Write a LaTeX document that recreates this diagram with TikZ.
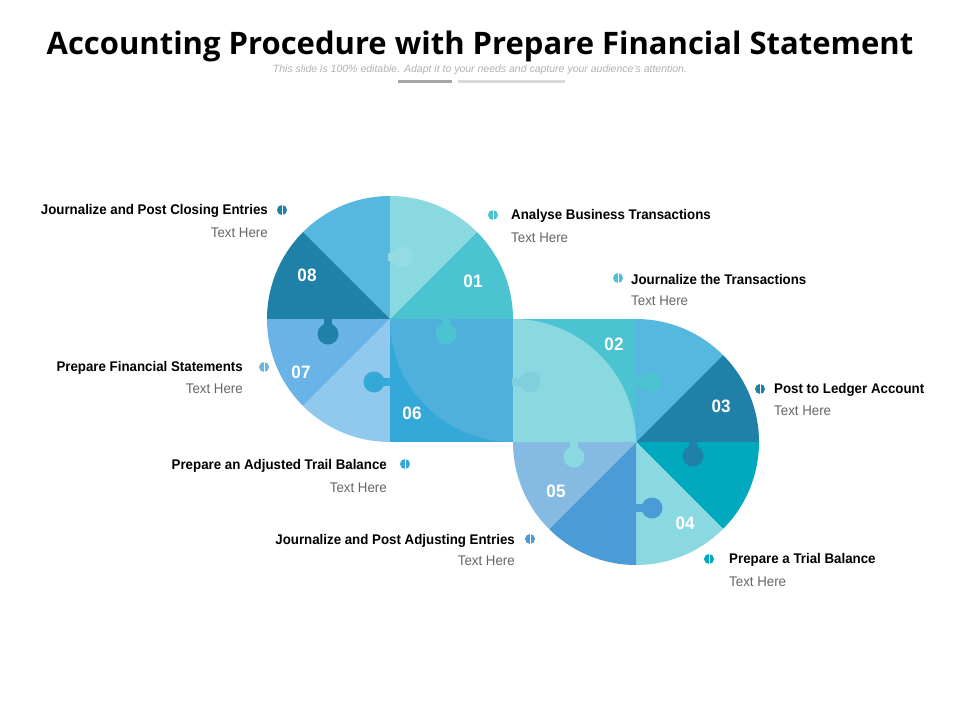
\documentclass[tikz,border=0pt]{standalone}
\usepackage{fontspec}
\setmainfont{Liberation Sans}
\newfontfamily\narrow[FakeStretch=0.95]{Liberation Sans}
\newfontfamily\titlefont{Open Sans}
\definecolor{cA}{HTML}{56B7DF}
\definecolor{cB}{HTML}{1F80A8}
\definecolor{cC}{HTML}{8AD9E1}
\definecolor{cC2}{HTML}{94DCE4}
\definecolor{cC3}{HTML}{7FD0DC}
\definecolor{cD}{HTML}{4BC3D0}
\definecolor{cE}{HTML}{6AB3E6}
\definecolor{cF}{HTML}{90C8EE}
\definecolor{cG}{HTML}{35A8DA}
\definecolor{cH}{HTML}{4FB0DC}
\definecolor{cI}{HTML}{00A9BE}
\definecolor{cJ}{HTML}{4A9BD6}
\definecolor{cK}{HTML}{85BAE2}
\definecolor{txtgray}{HTML}{666666}
\tikzset{
 num/.style={text=white,font=\narrow\bfseries\fontsize{18}{18}\selectfont},
 head/.style={font=\narrow\bfseries\fontsize{14}{16}\selectfont,inner sep=0pt},
 sub/.style={font=\narrow\fontsize{14}{16}\selectfont,text=txtgray,inner sep=0pt},
}
\newcommand{\sector}[5]{\fill[#5] (#1,#2) -- ++(-#3:123) arc[start angle=-#3,end angle=-#4,radius=123] -- cycle;}
\newcommand{\tab}[5]{\draw[#5,line width=8pt] (#3,#4) -- (#1,#2); \fill[#5] (#1,#2) circle[radius=10.5];}
\newcommand{\dotmark}[3]{\fill[#3] (#1,#2) circle[radius=5]; \draw[white,line width=1pt] (#1,#2-5) -- (#1,#2+5);}
\begin{document}
\begin{tikzpicture}[x=1pt,y=-1pt]
\useasboundingbox (0,0) rectangle (960,720);
\fill[white] (0,0) rectangle (960,720);
\node[font=\titlefont\bfseries\fontsize{31}{34}\selectfont] (title) at (480,46) {Accounting Procedure with Prepare Financial Statement};
\node[font=\itshape\fontsize{10.5}{12}\selectfont,text=gray!60] (subt) at (480,70) {This slide is 100\% editable. Adapt it to your needs and capture your audience's attention.};
\fill[gray!70] (398,80) rectangle (452,82.5);
\fill[gray!30] (458,80) rectangle (565,82.5);
% circle 1
\sector{390}{319}{90}{135}{cA}
\sector{390}{319}{135}{180}{cB}
\sector{390}{319}{45}{90}{cC}
\sector{390}{319}{0}{45}{cD}
\sector{390}{319}{180}{225}{cE}
\sector{390}{319}{225}{270}{cF}
% circle 2
\sector{636}{442}{45}{90}{cA}
\sector{636}{442}{0}{45}{cB}
\sector{636}{442}{315}{360}{cI}
\sector{636}{442}{270}{315}{cC}
\sector{636}{442}{225}{270}{cJ}
\sector{636}{442}{180}{225}{cK}
% squares
\fill[cG] (390,319) rectangle (513,442);
\fill[cH] (513,319) -- (390,319) arc[start angle=180,end angle=90,radius=123] -- cycle;
\fill[cD] (513,319) rectangle (636,442);
\fill[cC] (513,442) -- (513,319) arc[start angle=-90,end angle=0,radius=123] -- cycle;
% tabs
\tab{402}{257}{388}{257}{cC2}
\tab{328}{334}{328}{318}{cB}
\tab{446}{334}{446}{318}{cD}
\tab{374}{382}{391}{382}{cG}
\tab{530}{382}{512}{382}{cC3}
\tab{651}{382}{635}{382}{cD}
\tab{574}{457}{574}{441}{cC}
\tab{693}{456}{693}{441}{cB}
\tab{652}{508}{635}{508}{cJ}
% numbers
\node[num] (n08) at (307,275) {08};
\node[num] (n01) at (473,281) {01};
\node[num] (n02) at (614,344) {02};
\node[num] (n07) at (301,372) {07};
\node[num] (n06) at (412,413) {06};
\node[num] (n03) at (721,406) {03};
\node[num] (n05) at (556,491) {05};
\node[num] (n04) at (685,523) {04};
% labels
\dotmark{282}{210}{cB}
\node[head,anchor=east] (h8) at (268,211) {Journalize and Post Closing Entries};
\node[sub,anchor=east] (s8) at (268,233) {Text Here};
\dotmark{493}{215}{cD}
\node[head,anchor=west] (h1) at (511,216) {Analyse Business Transactions};
\node[sub,anchor=west] (s1) at (511,238) {Text Here};
\dotmark{618}{278}{cD}
\node[head,anchor=west] (h2) at (631,279) {Journalize the Transactions};
\node[sub,anchor=west] (s2) at (631,301) {Text Here};
\dotmark{760}{389}{cB}
\node[head,anchor=west] (h3) at (774,390) {Post to Ledger Account};
\node[sub,anchor=west] (s3) at (774,411) {Text Here};
\dotmark{264}{367}{cE}
\node[head,anchor=east] (h7) at (243,368) {Prepare Financial Statements};
\node[sub,anchor=east] (s7) at (243,389) {Text Here};
\dotmark{405}{464}{cG}
\node[head,anchor=east] (h6) at (387,466) {Prepare an Adjusted Trail Balance};
\node[sub,anchor=east] (s6) at (387,488) {Text Here};
\dotmark{530}{539}{cJ}
\node[head,anchor=east] (h5) at (515,541) {Journalize and Post Adjusting Entries};
\node[sub,anchor=east] (s5) at (515,561) {Text Here};
\dotmark{709}{559}{cI}
\node[head,anchor=west] (h4) at (729,560) {Prepare a Trial Balance};
\node[sub,anchor=west] (s4) at (729,582) {Text Here};
\end{tikzpicture}
\end{document}
